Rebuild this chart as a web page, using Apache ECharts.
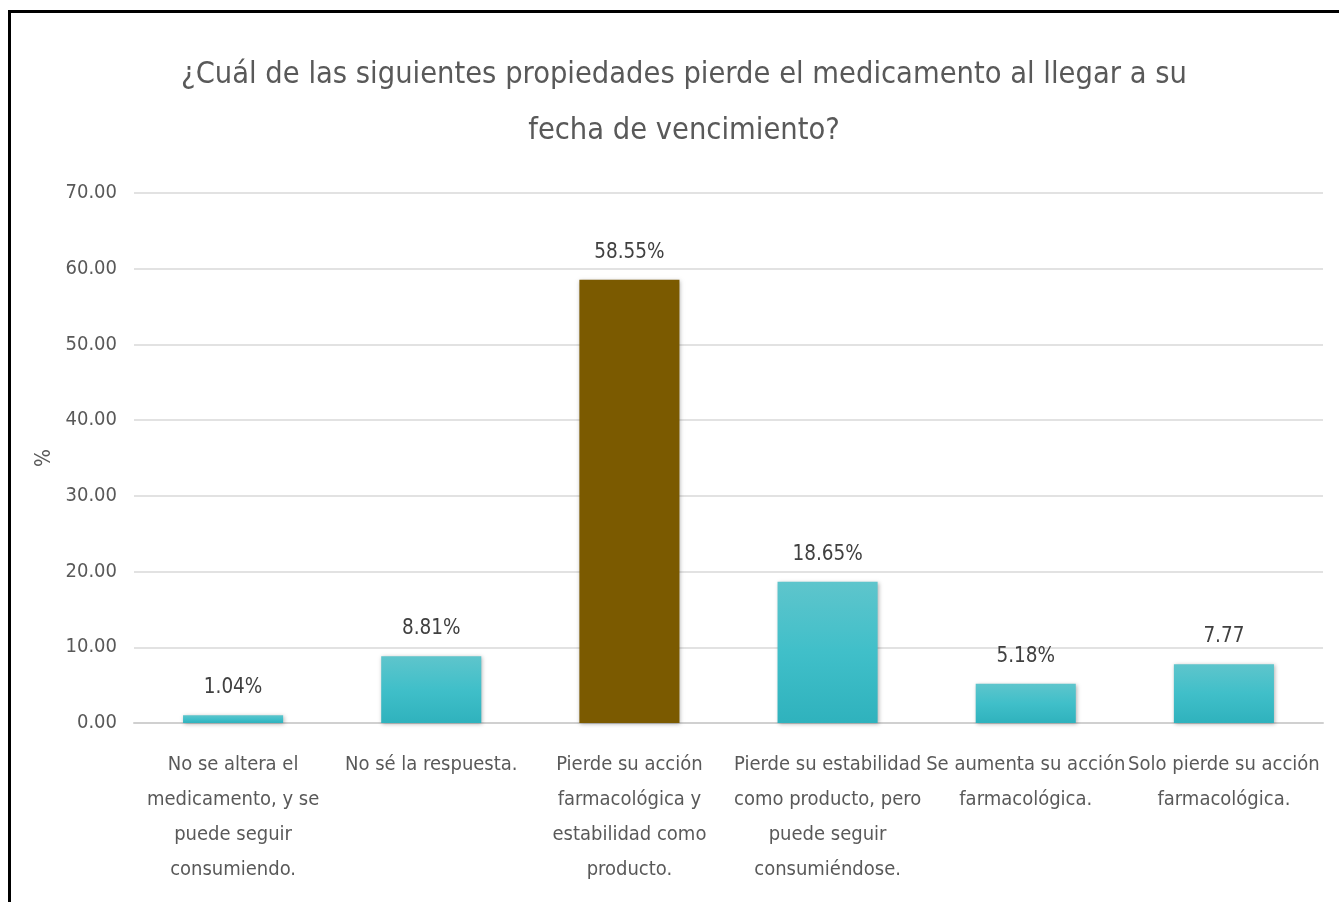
<!DOCTYPE html>
<html>
<head>
<meta charset="utf-8">
<script src="https://cdn.jsdelivr.net/npm/echarts@6/dist/echarts.min.js"></script>
<style>
html,body{margin:0;padding:0;background:#fff;}
#c{width:1339px;height:902px;}
</style>
</head>
<body>
<div id="c"></div>
<script>
const categories = [
  "No se altera el\nmedicamento, y se\npuede seguir\nconsumiendo.",
  "No sé la respuesta.",
  "Pierde su acción\nfarmacológica y\nestabilidad como\nproducto.",
  "Pierde su estabilidad\ncomo producto, pero\npuede seguir\nconsumiéndose.",
  "Se aumenta su acción\nfarmacológica.",
  "Solo pierde su acción\nfarmacológica."
];
const values = [1.04, 8.81, 58.55, 18.65, 5.18, 7.77];
const valueLabels = ["1.04%", "8.81%", "58.55%", "18.65%", "5.18%", "7.77"];
const highlightIndex = 2;
const titleText = "¿Cuál de las siguientes propiedades pierde el medicamento al llegar a su\nfecha de vencimiento?";

const FONT = "'Liberation Sans Narrow', 'DejaVu Sans Condensed', 'Roboto', sans-serif";
const tealGrad = new echarts.graphic.LinearGradient(0, 0, 0, 1, [
  {offset: 0, color: '#5ec5cc'},
  {offset: 0.5, color: '#40bfc9'},
  {offset: 1, color: '#2fb2bd'}
]);

const chart = echarts.init(document.getElementById('c'), null, {renderer: 'canvas'});
chart.setOption({
  backgroundColor: '#ffffff',
  animation: false,
  title: {
    text: titleText,
    left: 679,
    textAlign: 'center',
    top: 42,
    textStyle: {fontFamily: FONT, fontSize: 30.5, fontWeight: 'normal', color: '#595959', lineHeight: 56}
  },
  graphic: [{
    type: 'rect',
    shape: {x: 9.5, y: 11.5, width: 1500, height: 1100},
    style: {fill: 'none', stroke: '#000', lineWidth: 3},
    silent: true
  }],
  grid: {left: 134, right: 16, top: 193, bottom: 179},
  xAxis: {
    type: 'category',
    data: categories,
    axisLine: {lineStyle: {color: '#d0d0d0', width: 2}},
    axisTick: {show: false},
    axisLabel: {
      interval: 0, margin: 24, fontFamily: FONT, fontSize: 20, lineHeight: 35, color: '#595959'
    }
  },
  yAxis: {
    type: 'value',
    min: 0, max: 70, interval: 10,
    name: '%',
    nameLocation: 'middle',
    nameGap: 70,
    nameRotate: 90,
    nameTextStyle: {fontFamily: FONT, fontSize: 21, color: '#595959'},
    axisLine: {show: false},
    axisTick: {show: false},
    splitLine: {lineStyle: {color: '#d9d9d9', width: 1.5}},
    axisLabel: {
      margin: 17, fontFamily: FONT, fontSize: 20, color: '#595959',
      formatter: v => v.toFixed(2)
    }
  },
  series: [{
    type: 'bar',
    barCategoryGap: '49.5%',
    data: values.map((v, i) => ({
      value: v,
      itemStyle: {color: i === highlightIndex ? '#7b5a00' : tealGrad}
    })),
    itemStyle: {shadowColor: 'rgba(0,0,0,0.3)', shadowBlur: 4, shadowOffsetX: 1, shadowOffsetY: 1},
    label: {
      show: true, position: 'top', distance: 17,
      fontFamily: FONT, fontSize: 20.5, color: '#404040',
      formatter: p => valueLabels[p.dataIndex]
    }
  }]
});
</script>
</body>
</html>
